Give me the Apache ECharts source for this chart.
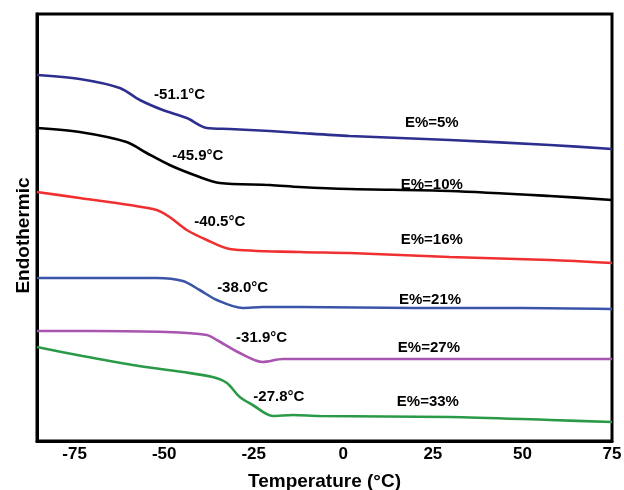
<!DOCTYPE html>
<html>
<head>
<meta charset="utf-8">
<script src="https://cdn.jsdelivr.net/npm/echarts@6/dist/echarts.min.js"></script>
<style>
html,body{margin:0;padding:0;background:#fff;}
#chart{width:624px;height:490px;}
</style>
</head>
<body>
<div id="chart"></div>
<script>
// Temperature (°C) values and heat flow (arbitrary units)
const t5  = [-85.5,-73.6,-62.4,-56.8,-50.4,-43.7,-38.1,-31.7,-20.5,-12.2,1.8,29.7,57.7,75];
const v5  = [366,362,353,341,331,323,313,312,310,308,305,301,296,292];
const t10 = [-85.5,-73.6,-60.5,-54.9,-48.5,-40.1,-34.5,-20.5,-12.2,1.8,29.7,57.7,75];
const v10 = [313,309,299,288,276,264,258,256,254,252,250,245,241];
const t16 = [-85.5,-73.6,-59.6,-52.1,-48.5,-43.7,-38.1,-31.7,-12.2,1.8,29.7,57.7,75];
const v16 = [249,243,236,231,224,211,201,192,189,188,184,181,178];
const t21 = [-85.5,-70,-52.1,-44.8,-40.1,-35.3,-28.1,-22.5,-12.2,20,50,75];
const v21 = [163,163,163,160,151,141,133,134,134,133,133,132];
const t27 = [-85.5,-70,-49.3,-38.1,-35.3,-28.9,-22.5,-16.9,-6.6,30,75];
const v27 = [110,110,109,106,101,88,79,82,82,82,82];
const t33 = [-85.5,-72.8,-58.8,-44.8,-36.5,-32.5,-28.9,-25.3,-19.7,-14.1,-6.6,29.7,57.7,75];
const v33 = [94,85,76,69,64,58,44,36,25,26,25,24,21,19];

const seriesNames = ['E%=5%','E%=10%','E%=16%','E%=21%','E%=27%','E%=33%'];
const tgLabels = ['-51.1°C','-45.9°C','-40.5°C','-38.0°C','-31.9°C','-27.8°C'];
// annotation anchor points (data coordinates)
const tgAnnotT = [-45.7,-40.6,-34.5,-28.1,-22.8,-18.0];
const tgAnnotV = [346,285,219,153,103,44];
const nameAnnotT = [24.7,24.7,24.7,24.2,23.9,23.6];
const nameAnnotV = [318,256,201,141,93,39];
const xTicks = [-75,-50,-25,0,25,50,75];

const colors = ['#2d2f8f','#000000','#f03030','#3a55a8','#a855b0','#2a9a48'];
const ts = [t5,t10,t16,t21,t27,t33];
const vs = [v5,v10,v16,v21,v27,v33];

const txt = {fontFamily:'Liberation Sans, Arial, sans-serif', fontWeight:'bold', color:'#000'};

const series = ts.map((t,i)=>({
  type:'line',
  name: seriesNames[i],
  data: t.map((x,j)=>[x, vs[i][j]]),
  smooth: 0.3,
  showSymbol:false,
  lineStyle:{color:colors[i], width:2.6},
  z: 3,
  silent:true,
  markPoint:{
    symbol:'circle', symbolSize:0,
    silent:true,
    label:{show:true, position:'inside', formatter:p=>p.name, fontSize:15, ...txt},
    data:[
      {name:tgLabels[i], coord:[tgAnnotT[i], tgAnnotV[i]]},
      {name:seriesNames[i], coord:[nameAnnotT[i], nameAnnotV[i]]}
    ]
  }
}));

const chart = echarts.init(document.getElementById('chart'), null, {renderer:'canvas'});
chart.setOption({
  animation:false,
  backgroundColor:'#fff',
  grid:{left:37, right:12, top:14, bottom:49, show:true, borderColor:'#000', borderWidth:3, containLabel:false, outerBoundsMode:'none'},
  xAxis:{
    type:'value', min:-85.5, max:75,
    axisLine:{show:true, onZero:false, lineStyle:{color:'#000', width:3}},
    axisTick:{show:false},
    splitLine:{show:false},
    axisLabel:{customValues:xTicks, showMinLabel:true, showMaxLabel:true, margin:5, fontSize:17, ...txt},
    name:'Temperature (°C)', nameLocation:'middle', nameGap:31,
    nameTextStyle:{fontSize:19, ...txt}
  },
  yAxis:{
    type:'value', min:0, max:427,
    axisLine:{show:true, onZero:false, lineStyle:{color:'#000', width:3}},
    axisTick:{show:false},
    axisLabel:{show:false},
    splitLine:{show:false},
    name:'Endothermic', nameLocation:'middle', nameGap:4, nameRotate:90,
    nameTextStyle:{fontSize:19, padding:[0,16,0,0], ...txt}
  },
  series
});
</script>
</body>
</html>
